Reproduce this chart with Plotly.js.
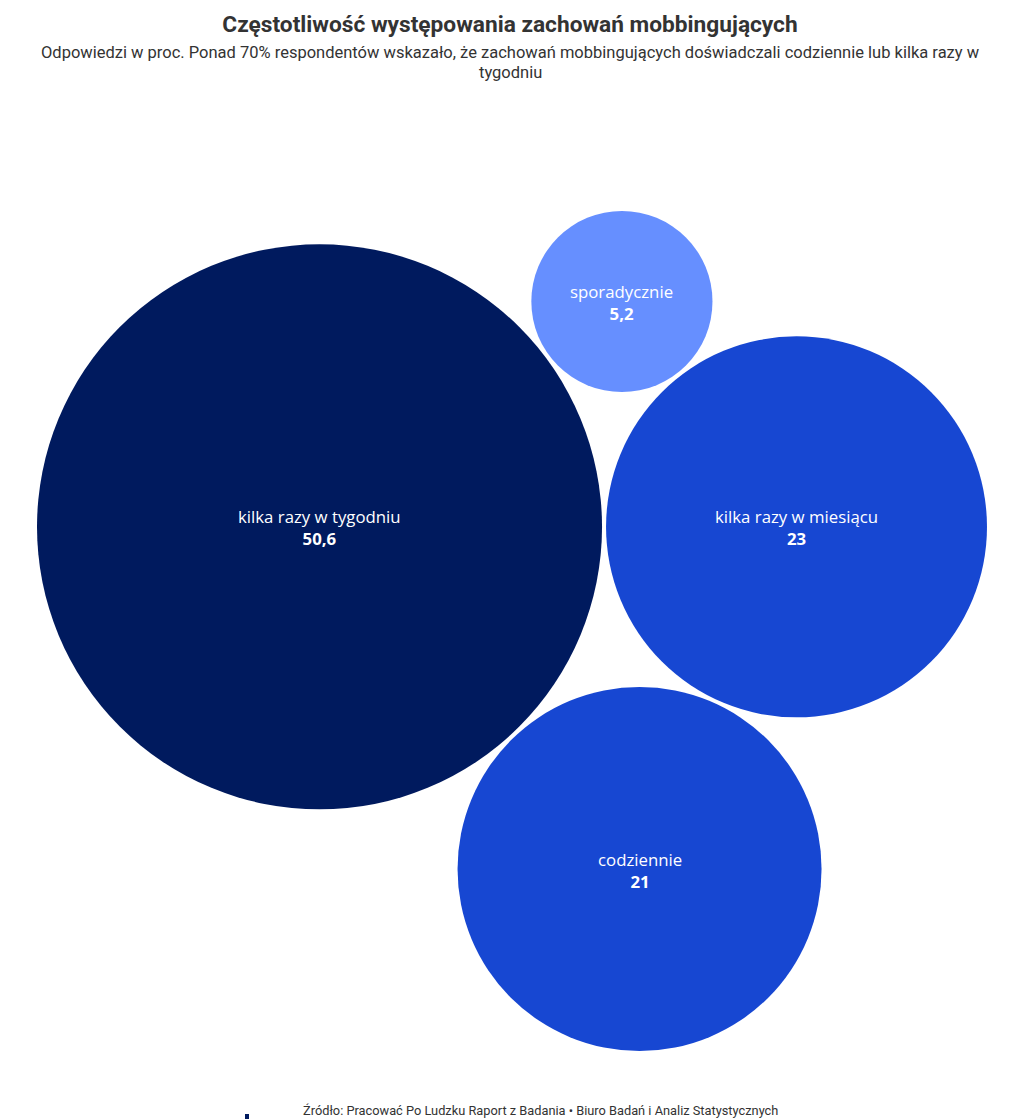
<!DOCTYPE html>
<html>
<head>
<meta charset="utf-8">
<script src="https://cdn.plot.ly/plotly-3.0.1.min.js"></script>
<style>html,body{margin:0;padding:0;background:#fff}</style>
</head>
<body>
<div id="chart" style="width:1020px;height:1119px"></div>
<script>
// dane z wykresu
var categories = ['kilka razy w tygodniu', 'kilka razy w miesiącu', 'codziennie', 'sporadycznie']
var values = [50.6, 23, 21, 5.2]
var colors = ['#001a5e', '#1747d2', '#1747d2', '#668fff']

var W = 1020, H = 1119
var packWidth = 950, centerX = 512, centerY = 631, gap = 4

// dwa punkty styczne do okregow a i b dla okregu o promieniu r
function tangentPoints(a, b, r) {
    var dx = b.x - a.x, dy = b.y - a.y
    var d = Math.sqrt(dx * dx + dy * dy)
    var ra = a.r + r, rb = b.r + r
    var t = (ra * ra - rb * rb + d * d) / (2 * d)
    var h = Math.sqrt(Math.max(0, ra * ra - t * t))
    var px = a.x + t * dx / d, py = a.y + t * dy / d
    return [
        {x: px - h * dy / d, y: py + h * dx / d},
        {x: px + h * dy / d, y: py - h * dx / d}
    ]
}

// proste upakowanie: najwiekszy, obok drugi, reszta jak najblizej srodka
function pack(radii, pad) {
    var c = radii.map(function(r) { return {r: r + pad / 2, x: 0, y: 0} })
    c[0].x = -c[1].r
    c[1].x = c[0].r
    for (var i = 2; i < c.length; i++) {
        var best = null, bestD = Infinity
        for (var j = 0; j < i; j++) {
            for (var k = j + 1; k < i; k++) {
                tangentPoints(c[j], c[k], c[i].r).forEach(function(p) {
                    var ok = true
                    for (var m = 0; m < i; m++) {
                        var ddx = p.x - c[m].x, ddy = p.y - c[m].y
                        if (Math.sqrt(ddx * ddx + ddy * ddy) < c[m].r + c[i].r - 1e-6) ok = false
                    }
                    var dist = Math.sqrt(p.x * p.x + p.y * p.y)
                    if (ok && dist < bestD - 1e-9) { bestD = dist; best = p }
                })
            }
        }
        c[i].x = best.x
        c[i].y = best.y
    }
    return c.map(function(o, i) { return {x: o.x, y: o.y, r: radii[i]} })
}

var scale = 40, circles
for (var it = 0; it < 6; it++) {
    circles = pack(values.map(function(v) { return scale * Math.sqrt(v) }), gap)
    var minX = Infinity, maxX = -Infinity
    circles.forEach(function(c) { minX = Math.min(minX, c.x - c.r); maxX = Math.max(maxX, c.x + c.r) })
    scale = scale * packWidth / (maxX - minX)
}
var bx0 = Infinity, bx1 = -Infinity, by0 = Infinity, by1 = -Infinity
circles.forEach(function(c) {
    bx0 = Math.min(bx0, c.x - c.r); bx1 = Math.max(bx1, c.x + c.r)
    by0 = Math.min(by0, c.y - c.r); by1 = Math.max(by1, c.y + c.r)
})
var offX = centerX - (bx0 + bx1) / 2, offY = centerY - (by0 + by1) / 2
var xs = circles.map(function(c) { return c.x + offX })
var ys = circles.map(function(c) { return c.y + offY })

var trace = {
    x: xs,
    y: ys,
    mode: 'markers',
    type: 'scatter',
    marker: {
        size: circles.map(function(c) { return 2 * c.r }),
        sizemode: 'diameter',
        sizeref: 1,
        color: colors,
        opacity: 1,
        line: {width: 0}
    },
    hoverinfo: 'none',
    cliponaxis: false
}

var labelFont = {family: 'Open Sans, sans-serif', size: 16.8, color: '#ffffff'}
var labelNotes = categories.map(function(name, i) {
    return {
        text: name + '<br><b>' + String(values[i]).replace('.', ',') + '</b>',
        x: xs[i], y: ys[i], xref: 'x', yref: 'y',
        xanchor: 'center', yanchor: 'middle', yshift: -1, showarrow: false, font: labelFont
    }
})

var hiddenAxis = {showgrid: false, zeroline: false, showticklabels: false, showline: false, ticks: '', fixedrange: true}

var layout = {
    width: W,
    height: H,
    margin: {l: 0, r: 0, t: 0, b: 0},
    paper_bgcolor: '#ffffff',
    plot_bgcolor: '#ffffff',
    showlegend: false,
    xaxis: Object.assign({range: [0, W]}, hiddenAxis),
    yaxis: Object.assign({range: [H, 0]}, hiddenAxis),
    title: {
        text: '<b>Częstotliwość występowania zachowań mobbingujących</b>',
        font: {family: 'Roboto, sans-serif', size: 22.7, color: '#333333'},
        x: 0.5, xanchor: 'center',
        y: 1 - 24 / H, yref: 'container', yanchor: 'middle'
    },
    annotations: labelNotes.concat([
        {
            text: 'Odpowiedzi w proc. Ponad 70% respondentów wskazało, że zachowań mobbingujących doświadczali codziennie lub kilka razy w',
            xref: 'paper', yref: 'paper', x: 0.5, y: 1 - 53 / H,
            xanchor: 'center', yanchor: 'middle', showarrow: false,
            font: {family: 'Roboto, sans-serif', size: 16.5, color: '#333333'}
        },
        {
            text: 'tygodniu',
            xref: 'paper', yref: 'paper', x: 0.5, y: 1 - 72 / H,
            xanchor: 'center', yanchor: 'middle', showarrow: false,
            font: {family: 'Roboto, sans-serif', size: 16.5, color: '#333333'}
        },
        {
            text: 'Źródło: Pracować Po Ludzku Raport z Badania • Biuro Badań i Analiz Statystycznych',
            xref: 'paper', yref: 'paper', x: 301 / W, y: 1 - 1110 / H,
            xanchor: 'left', yanchor: 'middle', showarrow: false,
            font: {family: 'Roboto, sans-serif', size: 12.8, color: '#333333'}
        }
    ]),
    shapes: [
        {type: 'rect', xref: 'paper', yref: 'paper', x0: 245 / W, x1: 249 / W, y0: 1 - 1119 / H, y1: 1 - 1114 / H,
         fillcolor: '#001a5e', line: {width: 0}}
    ]
}

Plotly.newPlot('chart', [trace], layout, {displayModeBar: false, staticPlot: true})
</script>
</body>
</html>
